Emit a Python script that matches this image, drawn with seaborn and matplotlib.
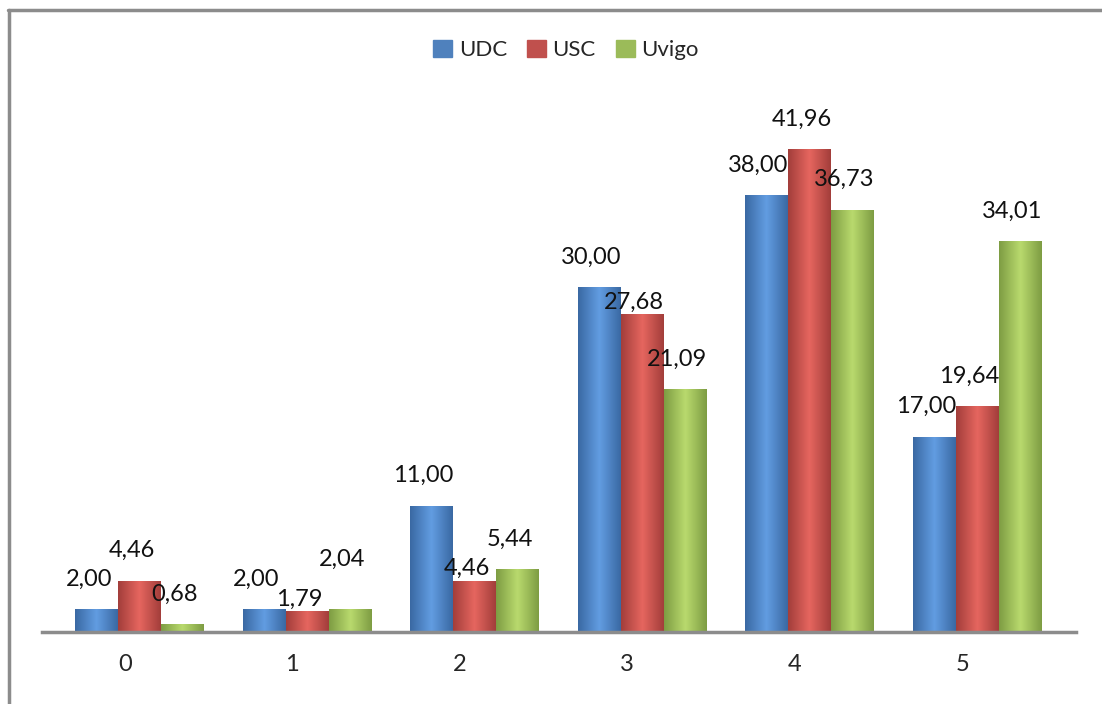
import matplotlib
matplotlib.use('Agg')
import matplotlib.pyplot as plt
import matplotlib.colors as mcolors
from matplotlib.lines import Line2D
import seaborn as sns
import pandas as pd
import numpy as np

categorias = ['0', '1', '2', '3', '4', '5']
udc = [2.00, 2.00, 11.00, 30.00, 38.00, 17.00]
usc = [4.46, 1.79, 4.46, 27.68, 41.96, 19.64]
uvigo = [0.68, 2.04, 5.44, 21.09, 36.73, 34.01]
series = ['UDC', 'USC', 'Uvigo']

colores = {'UDC': '#4F81BD', 'USC': '#C0504D', 'Uvigo': '#9BBB59'}
# bordes oscuros / centro claro para imitar el degradado de Excel
degradado = {
    'UDC': ('#3A69A3', '#629DE2'),
    'USC': ('#A33E3B', '#E6665F'),
    'Uvigo': ('#7E9D43', '#B9DA6E'),
}
# algunas etiquetas estan movidas a mano en el original (puntos)
ajuste_etiquetas = {('USC', 1): 1, ('USC', 2): 1, ('USC', 3): 0.5, ('Uvigo', 1): 28}

df = pd.DataFrame({
    'cat': categorias * 3,
    'serie': [s for s in series for _ in categorias],
    'valor': udc + usc + uvigo,
})

sns.set_style('white')
plt.rcParams['font.family'] = ['Lato', 'DejaVu Sans']

fig = plt.figure(figsize=(11.02, 7.04), dpi=100)
ax = fig.add_axes([42 / 1102, 72 / 704, 1034 / 1102, 552 / 704])

sns.barplot(data=df, x='cat', y='valor', hue='serie', hue_order=series,
            palette=colores, width=0.77, saturation=1, ax=ax, legend=False)

ax.set_xlim(-0.585, 5.59)
ax.set_ylim(0, 48)

# degradado horizontal en cada barra + etiquetas
for cont, s in zip(ax.containers, series):
    cmap = mcolors.LinearSegmentedColormap.from_list(
        s, [degradado[s][0], degradado[s][1], degradado[s][0]])
    grad = np.linspace(0, 1, 64).reshape(1, -1)
    for i, (bar, v) in enumerate(zip(cont, cont.datavalues)):
        x0, w, h = bar.get_x(), bar.get_width(), bar.get_height()
        im = ax.imshow(grad, cmap=cmap, aspect='auto',
                       extent=(x0, x0 + w, 0, h), zorder=bar.get_zorder() + 0.1)
        im.set_clip_path(bar)
        bar.set_edgecolor('none')
        dy = ajuste_etiquetas.get((s, i), 14)
        ax.annotate(f'{v:.2f}'.replace('.', ','), (x0 + w / 2, h),
                    xytext=(-6, dy), textcoords='offset points',
                    ha='center', va='bottom', fontsize=17, color='#111111',
                    zorder=10)

ax.set_xticks(np.arange(len(categorias)) - 0.09)
ax.set_xticklabels(categorias, fontsize=17)
ax.tick_params(axis='x', length=0, pad=16)
ax.set_yticks([])
ax.set_xlabel('')
ax.set_ylabel('')
for lado in ['top', 'right', 'left']:
    ax.spines[lado].set_visible(False)
ax.spines['bottom'].set_color('#8C8C8C')
ax.spines['bottom'].set_linewidth(2.5)

handles = [plt.Rectangle((0, 0), 1, 1, color=colores[s]) for s in series]
fig.legend(handles, series, loc='center', bbox_to_anchor=(566 / 1102, 1 - 50 / 704),
           ncol=3, frameon=False, fontsize=16, handlelength=0.85, handleheight=0.85,
           handletextpad=0.3, columnspacing=0.9)

# marco del grafico (solo arriba e izquierda visibles)
fig.add_artist(Line2D([8 / 1102, 1], [1 - 10 / 704, 1 - 10 / 704], color='#8C8C8C', lw=2.5))
fig.add_artist(Line2D([9 / 1102, 9 / 1102], [0, 1 - 10 / 704], color='#8C8C8C', lw=2.5))

fig.savefig('out.png', dpi=100)
